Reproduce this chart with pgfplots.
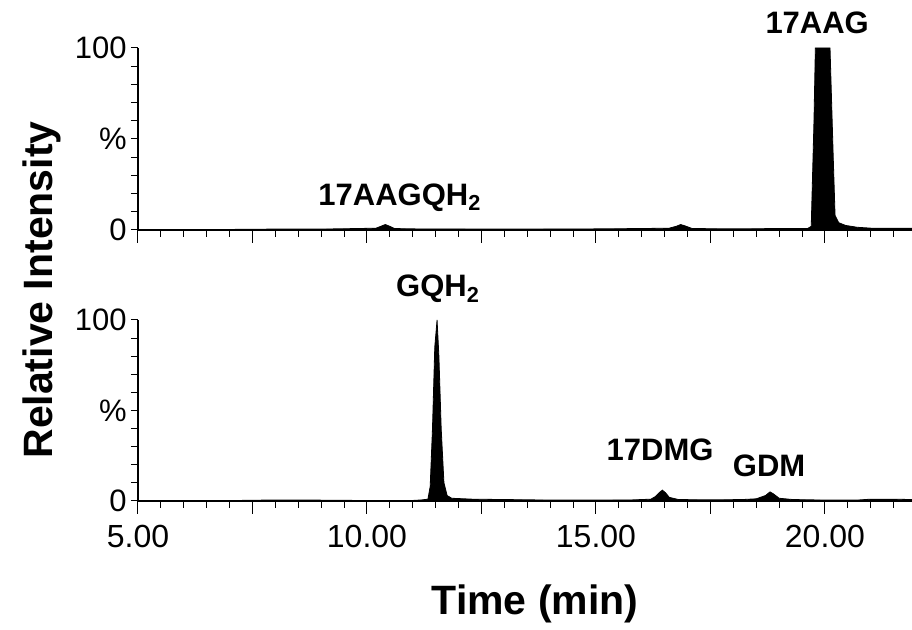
\documentclass[border=0pt]{standalone}
\usepackage{pgfplots}
\pgfplotsset{compat=1.18}
\usepackage{fontspec}
\setmainfont{Liberation Sans}
\newcommand{\tl}[1]{\mbox{\fontsize{15.5}{15.5}\selectfont #1}}
\newcommand{\xl}[1]{\mbox{\fontsize{16}{16}\selectfont #1}}
\begin{document}
\begin{tikzpicture}
\useasboundingbox (0,0) rectangle (456pt,315pt);
\pgfplotsset{
  chrom/.style={
    scale only axis, width=387pt, height=91pt,
    xmin=5, xmax=21.9, ymin=0, ymax=100,
    axis x line*=bottom, axis y line*=left,
    axis line style={line width=0.8pt},
    tick align=outside,
    xtick={5.5,6,...,21.5}, xticklabels={},
    extra x ticks={5,7.5,...,20},
    extra x tick style={major tick length=6.5pt},
    ytick={0,10,...,100},
    yticklabels={\tl{0},,,,,\tl{\%},,,,,\tl{100}},
    major tick length=3.5pt,
    every tick/.style={line width=0.5pt},
    yticklabel style={inner sep=1pt, xshift=-1pt},
    clip=false,
  }
}
\begin{axis}[chrom, at={(69pt,200pt)}, anchor=south west, extra x tick labels={}]
\addplot[fill=black, draw=black, line width=0.4pt] coordinates {
(5,0.3) (7,0.3) (8,0.5) (9,0.5) (9.8,0.8) (10.2,1) (10.3,2) (10.4,3) (10.5,2) (10.6,0.8)
(11,0.6) (13,0.5) (15,0.6) (16,0.8) (16.6,1) (16.75,2) (16.85,3) (16.95,2.2) (17.1,0.8)
(18,0.6) (19,0.8) (19.62,0.8) (19.70,2) (19.76,60) (19.79,100) (20.11,100) (20.18,40)
(20.22,8) (20.3,4) (20.45,2.5) (20.7,1.5) (21,1) (21.5,1) (21.9,1)
} \closedcycle;
\node[anchor=base, font=\bfseries\fontsize{15.5}{15.5}\selectfont] at (axis cs:10.72,13.7) {17AAGQH\textsubscript{2}};
\node[anchor=base, font=\bfseries\fontsize{15.5}{15.5}\selectfont] at (axis cs:19.83,108.2) {17AAG};
\end{axis}
\begin{axis}[chrom, at={(69pt,64.5pt)}, anchor=south west, height=90.5pt,
  extra x tick labels={\xl{5.00},,\xl{10.00},,\xl{15.00},,\xl{20.00}},
  extra x tick style={major tick length=6.5pt, xticklabel style={yshift=-2pt}}]
\addplot[fill=black, draw=black, line width=0.4pt] coordinates {
(5,0.2) (7.2,0.3) (7.8,0.5) (8.8,0.5) (9.8,0.3) (11.0,0.3) (11.2,0.6) (11.33,1) (11.38,8)
(11.43,40) (11.48,85) (11.53,100) (11.57,80) (11.62,40) (11.68,10) (11.75,3) (11.85,1.5)
(12.3,1) (13,0.8) (14,0.5) (15,0.5) (15.8,0.6) (16.2,1) (16.3,2.5) (16.4,5) (16.45,6)
(16.52,4.5) (16.6,2) (16.8,0.8) (17.5,0.6) (18.2,0.8) (18.5,1.2) (18.7,3) (18.8,5)
(18.87,4) (19.0,1.5) (19.3,0.8) (20,0.5) (20.7,0.5) (21,1) (21.5,1) (21.9,0.8)
} \closedcycle;
\node[anchor=base, font=\bfseries\fontsize{15.5}{15.5}\selectfont] at (axis cs:11.55,112.7) {GQH\textsubscript{2}};
\node[anchor=base, font=\bfseries\fontsize{15.5}{15.5}\selectfont] at (axis cs:16.40,22.1) {17DMG};
\node[anchor=base, font=\bfseries\fontsize{15.5}{15.5}\selectfont] at (axis cs:18.78,13.3) {GDM};
\end{axis}
\node[rotate=90, font=\bfseries\fontsize{20.5}{20.5}\selectfont] at (21pt,170pt) {Relative Intensity};
\node[anchor=base, font=\bfseries\fontsize{20.5}{20.5}\selectfont] at (267.5pt,7.5pt) {Time (min)};
\end{tikzpicture}
\end{document}
